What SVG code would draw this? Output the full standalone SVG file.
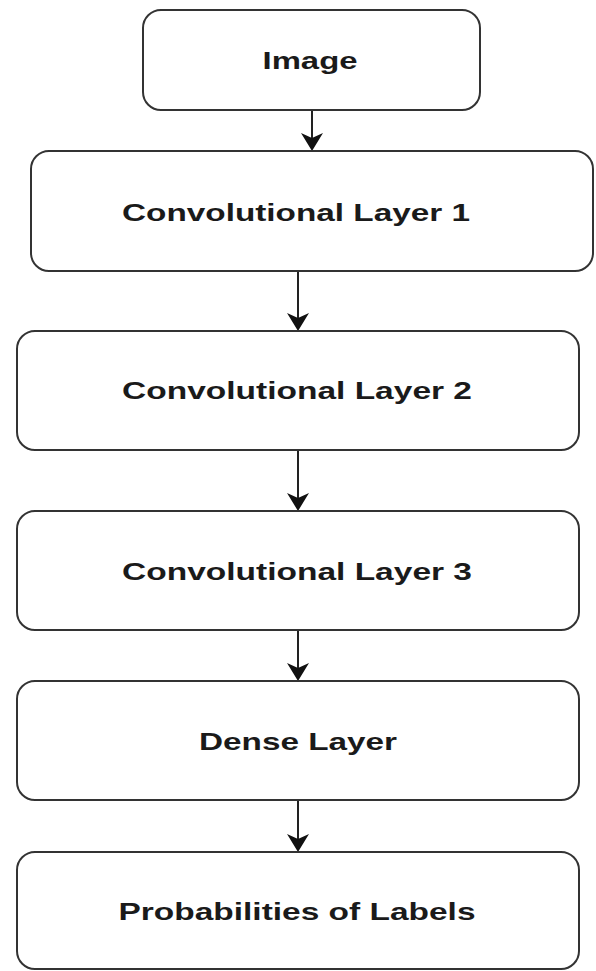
<svg xmlns="http://www.w3.org/2000/svg" width="596" height="971" viewBox="0 0 596 971">
<style>
.box{fill:#fff;stroke:#333;stroke-width:2}
.lbl{font-family:"Liberation Sans",Arial,sans-serif;font-weight:bold;font-size:24px;fill:#1a1a1a;text-anchor:middle;dominant-baseline:central}
.edge{stroke:#222;stroke-width:2;fill:none}
.head{fill:#111;stroke:none}
</style>
<rect width="596" height="971" fill="#fff"/>
<g id="connectors">
<line class="edge" x1="312" y1="110" x2="312" y2="140"/>
<path class="head" d="M301,133 L312,151 L323,133 L312,138 Z"/>
<line class="edge" x1="298" y1="271" x2="298" y2="320"/>
<path class="head" d="M287,313 L298,331 L309,313 L298,318 Z"/>
<line class="edge" x1="298" y1="450" x2="298" y2="500"/>
<path class="head" d="M287,493 L298,511 L309,493 L298,498 Z"/>
<line class="edge" x1="298" y1="630" x2="298" y2="670"/>
<path class="head" d="M287,663 L298,681 L309,663 L298,668 Z"/>
<line class="edge" x1="298" y1="800" x2="298" y2="841"/>
<path class="head" d="M287,834 L298,852 L309,834 L298,839 Z"/>
</g>
<g id="node-image">
<rect class="box" x="143" y="10" width="337" height="100" rx="18" ry="18"/>
<text class="lbl" x="310" y="60" textLength="95" lengthAdjust="spacingAndGlyphs">Image</text>
</g>
<g id="node-conv1">
<rect class="box" x="31" y="151" width="562" height="120" rx="18" ry="18"/>
<text class="lbl" x="296" y="212" textLength="348" lengthAdjust="spacingAndGlyphs">Convolutional Layer 1</text>
</g>
<g id="node-conv2">
<rect class="box" x="17" y="331" width="562" height="119" rx="18" ry="18"/>
<text class="lbl" x="297" y="390" textLength="350" lengthAdjust="spacingAndGlyphs">Convolutional Layer 2</text>
</g>
<g id="node-conv3">
<rect class="box" x="17" y="511" width="562" height="119" rx="18" ry="18"/>
<text class="lbl" x="297" y="571" textLength="350" lengthAdjust="spacingAndGlyphs">Convolutional Layer 3</text>
</g>
<g id="node-dense">
<rect class="box" x="17" y="681" width="562" height="119" rx="18" ry="18"/>
<text class="lbl" x="298" y="741" textLength="198" lengthAdjust="spacingAndGlyphs">Dense Layer</text>
</g>
<g id="node-prob">
<rect class="box" x="17" y="852" width="562" height="117" rx="18" ry="18"/>
<text class="lbl" x="297" y="911" textLength="357" lengthAdjust="spacingAndGlyphs">Probabilities of Labels</text>
</g>
</svg>
